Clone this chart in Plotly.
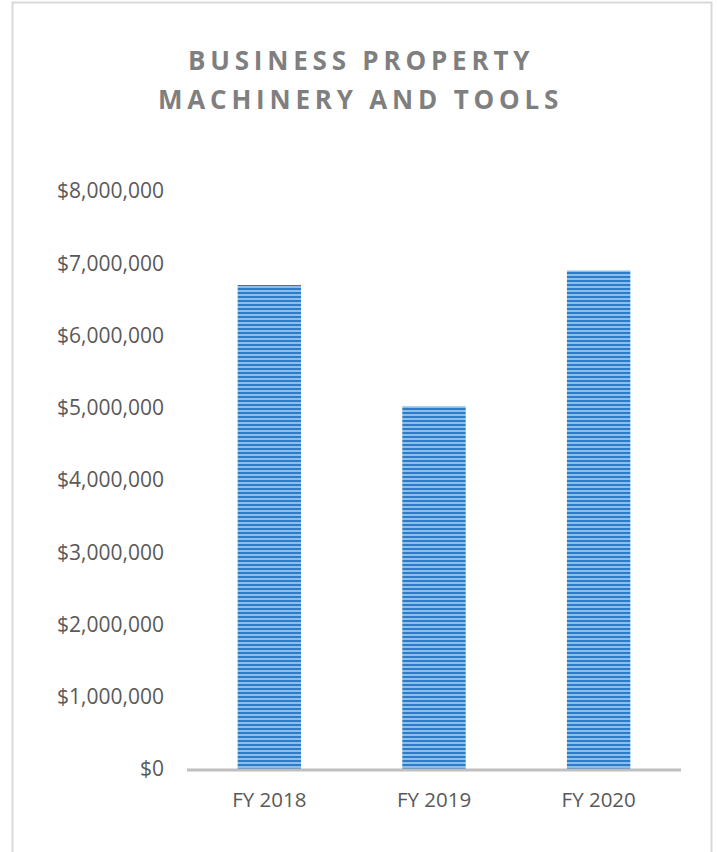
import plotly.graph_objects as go

# Assessed value of business machinery and tools by fiscal year
categories = ["FY 2018", "FY 2019", "FY 2020"]
values = [6700000, 5020000, 6900000]
tick_values = [0, 1000000, 2000000, 3000000, 4000000, 5000000, 6000000, 7000000, 8000000]
tick_labels = ["$0", "$1,000,000", "$2,000,000", "$3,000,000", "$4,000,000",
               "$5,000,000", "$6,000,000", "$7,000,000", "$8,000,000"]
title_lines = ["BUSINESS PROPERTY", "MACHINERY AND TOOLS"]

W, H = 717, 852
ML, MR, MT, MB = 187, 36, 191, 83

fig = go.Figure(
    go.Bar(
        x=categories,
        y=values,
        width=0.385,
        marker=dict(
            color="#A9CDEE",
            line=dict(width=0),
            pattern=dict(shape="-", fgcolor="#2A7DCB", bgcolor="#A9CDEE",
                         size=4, solidity=0.6, fillmode="replace"),
        ),
        hoverinfo="x+y",
    )
)

fig.update_layout(
    width=W, height=H,
    margin=dict(l=ML, r=MR, t=MT, b=MB),
    paper_bgcolor="white",
    plot_bgcolor="white",
    showlegend=False,
    font=dict(family="Open Sans", color="#595959", size=21),
    xaxis=dict(
        showgrid=False, zeroline=False, showline=False,
        ticks="", tickfont=dict(size=20.5, color="#595959"),
        ticklabelstandoff=16,
    ),
    yaxis=dict(
        range=[0, 8000000],
        tickvals=tick_values, ticktext=tick_labels,
        showgrid=False, zeroline=False, showline=False,
        ticks="", tickfont=dict(size=21, color="#595959"),
        ticklabelstandoff=22,
    ),
    bargap=0.6,
)

# Two-line spaced heading
for line, yc in zip(title_lines, [59.5, 98.5]):
    fig.add_annotation(
        text='<b><span style="letter-spacing:4.8px">' + line + '</span></b>',
        xref="paper", yref="paper",
        x=(W / 2 + 2 - ML) / (W - ML - MR),
        y=(H - yc - MB) / (H - MT - MB),
        xanchor="center", yanchor="middle", showarrow=False,
        font=dict(family="Open Sans", size=26, color="#7F7F7F"),
    )

pw = W - ML - MR
ph = H - MT - MB

# Category axis baseline
fig.add_shape(type="line", xref="paper", yref="paper", x0=0, x1=1,
              y0=-1 / ph, y1=-1 / ph,
              line=dict(color="#BFBFBF", width=3), layer="above")

# Chart frame (bottom edge runs past the page)
fig.add_shape(type="rect", xref="paper", yref="paper",
              x0=(12.5 - ML) / pw, x1=(711.5 - ML) / pw,
              y0=-(MB + 20) / ph, y1=(H - 2.5 - MB) / ph,
              line=dict(color="#D9D9D9", width=2), fillcolor="rgba(0,0,0,0)",
              layer="below")

fig.write_html("out.html")
